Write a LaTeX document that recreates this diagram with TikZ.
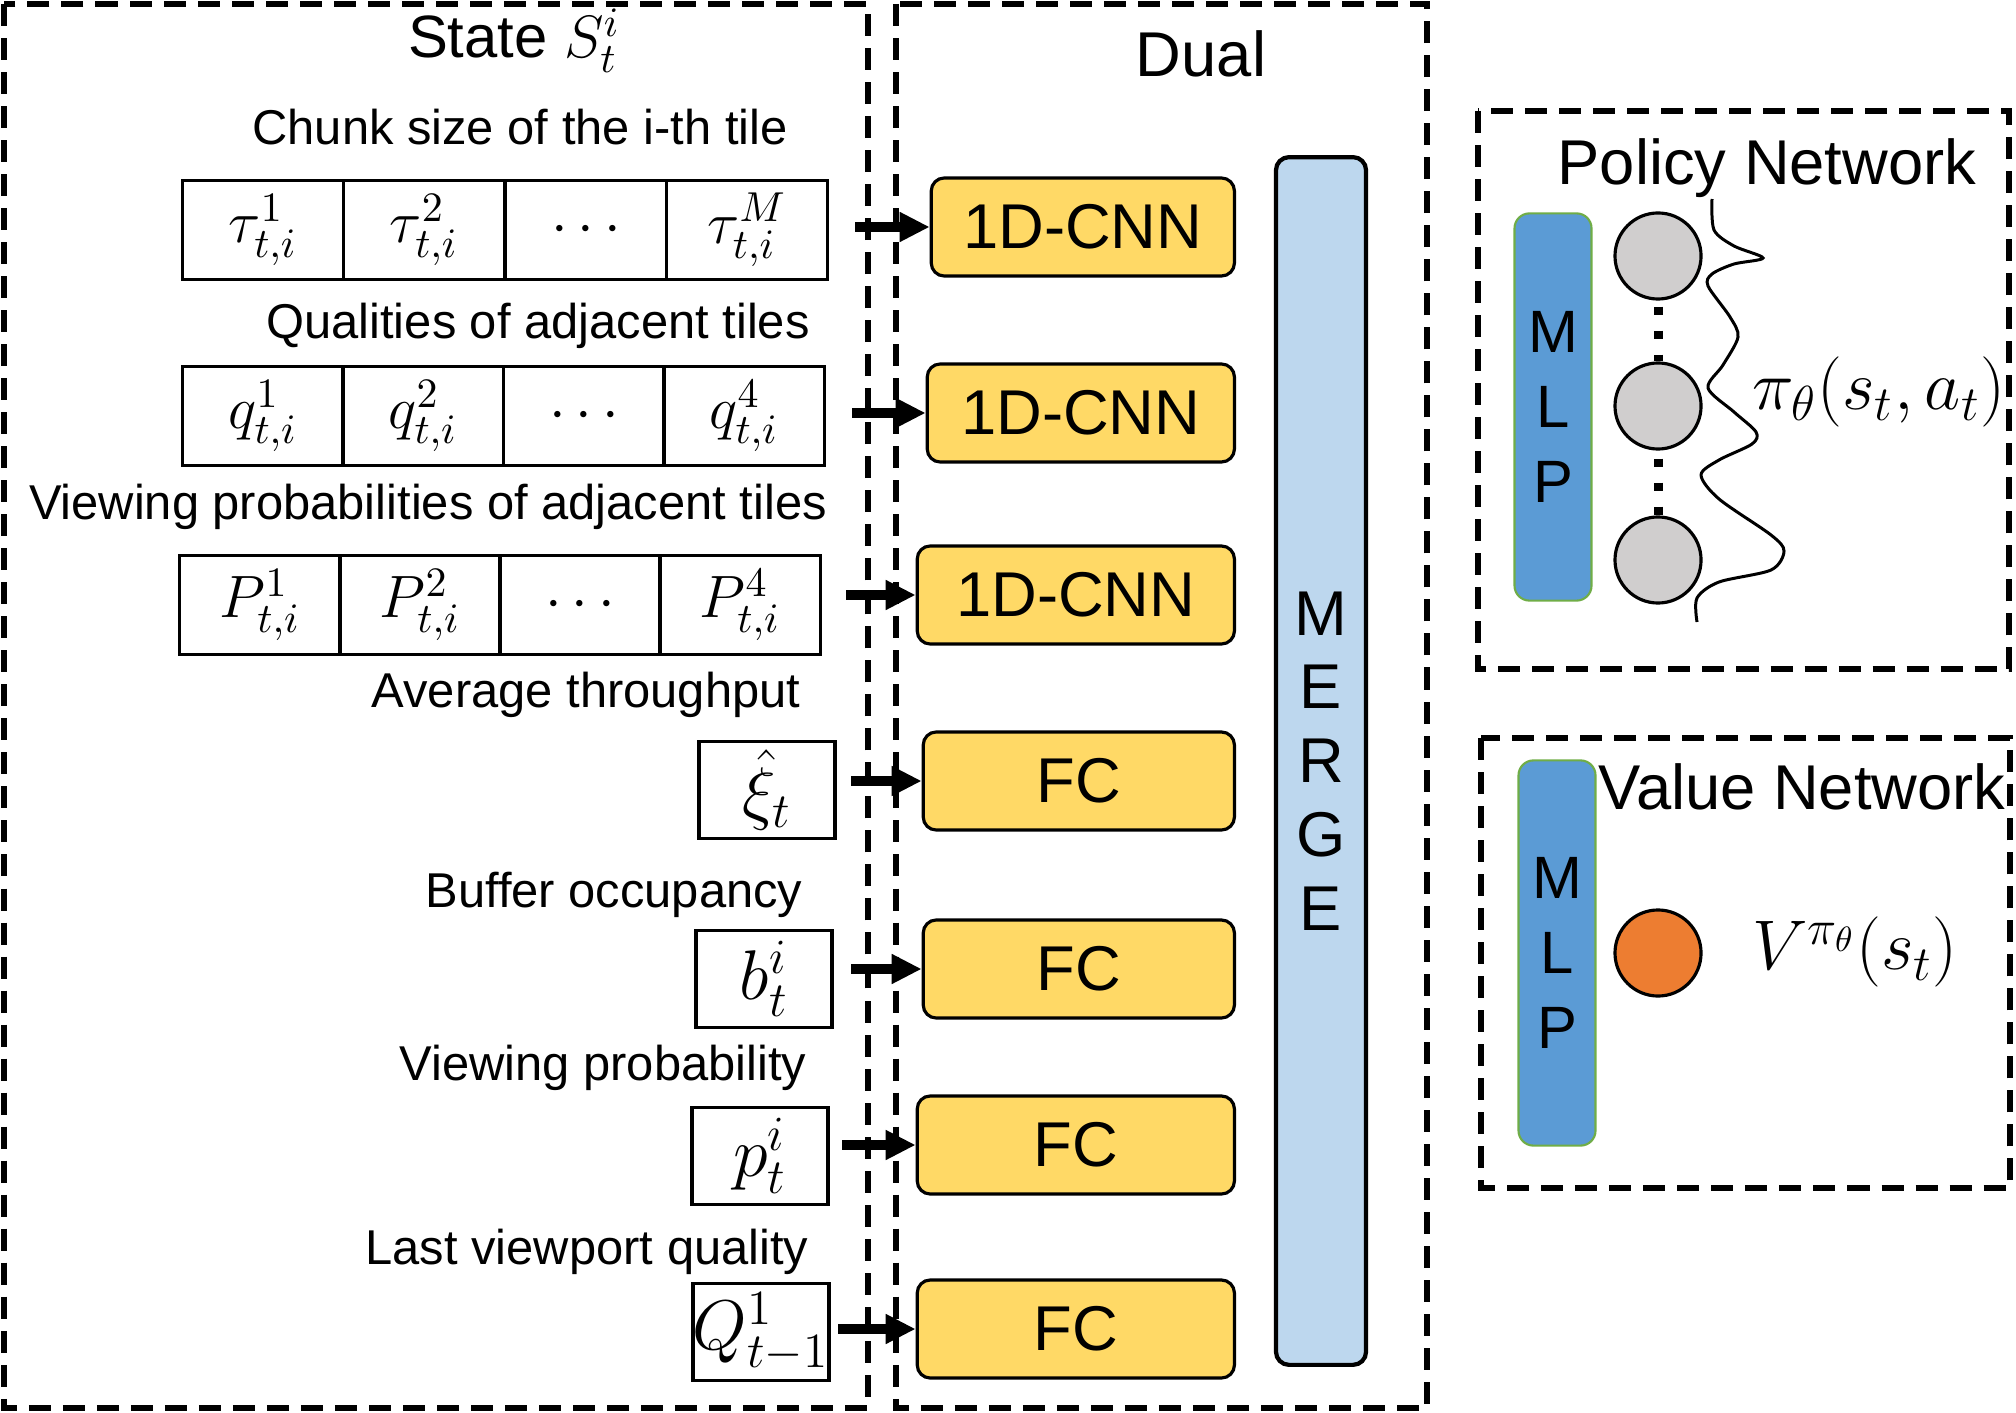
\documentclass[tikz,border=0pt]{standalone}
\usepackage{fix-cm}
\usepackage[no-math]{fontspec}
\setmainfont{Liberation Sans}
\usetikzlibrary{arrows.meta}

\definecolor{layeryellow}{HTML}{FFD966}
\definecolor{mergeblue}{HTML}{BDD7EE}
\definecolor{mlpblue}{HTML}{5B9BD5}
\definecolor{mlpedge}{HTML}{70AD47}
\definecolor{unitgray}{HTML}{D0CECE}
\definecolor{valueorange}{HTML}{ED7D31}

\tikzset{
  grp/.style={draw, line width=1.7pt, dash pattern=on 0.22cm off 0.12cm},
  lbl/.style={anchor=base, inner sep=0pt, font=\fontsize{13.9}{16}\selectfont},
  ttl/.style={anchor=base, inner sep=0pt, font=\fontsize{18}{21}\selectfont},
  cell/.style={draw, line width=1.1pt, minimum width=1.61cm, minimum height=0.99cm,
    inner sep=0pt, font=\fontsize{17}{20}\selectfont},
  feat/.style={draw, line width=1.1pt, minimum width=1.36cm, minimum height=0.97cm,
    inner sep=0pt, font=\fontsize{20}{23}\selectfont},
  layer/.style={draw, line width=0.9pt, rounded corners=0.13cm, fill=layeryellow,
    minimum height=0.98cm, anchor=east, inner sep=0pt, font=\fontsize{18}{20}\selectfont},
  mlp/.style={draw=mlpedge, line width=0.6pt, rounded corners=0.15cm, fill=mlpblue,
    minimum width=0.77cm, inner sep=0pt, align=center, font=\fontsize{17}{21.3}\selectfont},
  unit/.style={circle, draw, line width=0.9pt, minimum size=0.86cm, inner sep=0pt},
  feed/.style={-{Triangle[length=0.3cm,width=0.28cm]}, line width=0.1cm},
  dotline/.style={line width=0.09cm, dash pattern=on 0.08cm off 0.16cm},
}

\begin{document}
\begin{tikzpicture}[x=0.01cm,y=-0.01cm]
\useasboundingbox (0,0) rectangle (2016,1413);

% dashed groups
\draw[grp] (4,4) rectangle (868,1408);
\draw[grp] (896,4) rectangle (1427,1408);
\draw[grp] (1478,111) rectangle (2009,669);
\draw[grp] (1481,738) rectangle (2010,1188);

% titles and labels
\node[ttl, font=\fontsize{17}{20}\selectfont] (state) at (514,58) {State $S_t^i$};
\node[ttl] (dual) at (1201,77) {Dual};
\node[ttl] (policy) at (1767,185) {Policy Network};
\node[ttl] (value) at (1802,809) {Value Network};

\node[lbl] (lchunk) at (520,145) {Chunk size of the i-th tile};
\node[lbl] (lqual) at (538,339) {Qualities of adjacent tiles};
\node[lbl] (lview) at (428,520) {Viewing probabilities of adjacent tiles};
\node[lbl] (lavg) at (586,707) {Average throughput};
\node[lbl] (lbuf) at (614,907) {Buffer occupancy};
\node[lbl] (lvp) at (603,1080) {Viewing probability};
\node[lbl] (llast) at (587,1264) {Last viewport quality};

% state vectors
\begin{scope}[every node/.style={cell}]
  \node (t1) at (263,230) {$\tau^1_{t,i}$};
  \node (t2) at (424,230) {$\tau^2_{t,i}$};
  \node (t3) at (586,230) {$\cdots$};
  \node (t4) at (747,230) {$\tau^M_{t,i}$};
  \node (q1) at (263,416) {$q^1_{t,i}$};
  \node (q2) at (423,416) {$q^2_{t,i}$};
  \node (q3) at (584,416) {$\cdots$};
  \node (q4) at (744,416) {$q^4_{t,i}$};
  \node (p1) at (260,605) {$P^1_{t,i}$};
  \node (p2) at (420,605) {$P^2_{t,i}$};
  \node (p3) at (580,605) {$\cdots$};
  \node (p4) at (740,605) {$P^4_{t,i}$};
\end{scope}

\begin{scope}[every node/.style={feat}]
  \node (xi) at (767,790) {$\hat{\xi}_t$};
  \node (bt) at (764,979) {$b^i_t$};
  \node (pt) at (760,1156) {$p^i_t$};
  \node (qt) at (761,1332) {$Q^1_{t-1}$};
\end{scope}

% dual layers
\node[layer, minimum width=3.03cm] (c1) at (1236,227) {1D-CNN};
\node[layer, minimum width=3.07cm] (c2) at (1236,413) {1D-CNN};
\node[layer, minimum width=3.17cm] (c3) at (1236,595) {1D-CNN};
\node[layer, minimum width=3.11cm] (f1) at (1236,781) {FC};
\node[layer, minimum width=3.11cm] (f2) at (1236,969) {FC};
\node[layer, minimum width=3.17cm] (f3) at (1236,1145) {FC};
\node[layer, minimum width=3.17cm] (f4) at (1236,1329) {FC};

\node[draw, line width=1.2pt, rounded corners=0.13cm, fill=mergeblue,
  minimum width=0.9cm, minimum height=12.07cm, inner sep=0pt, align=center,
  font=\fontsize{18}{21}\selectfont] (merge) at (1321,761) {M\\E\\R\\G\\E};

% feeding arrows
\coordinate (a1) at (855,227);
\coordinate (a2) at (852,413);
\coordinate (a3) at (846,595);
\coordinate (a4) at (851,781);
\coordinate (a5) at (851,969);
\coordinate (a6) at (842,1145);
\coordinate (a7) at (838,1329);
\draw[feed] (a1) -- (c1.west);
\draw[feed] (a2) -- (c2.west);
\draw[feed] (a3) -- (c3.west);
\draw[feed] (a4) -- (f1.west);
\draw[feed] (a5) -- (f2.west);
\draw[feed] (a6) -- (f3.west);
\draw[feed] (a7) -- (f4.west);

% policy network
\node[mlp, minimum height=3.87cm] (mlp1) at (1553,407) {M\\L\\P};
\node[unit, fill=unitgray] (g1) at (1658,256) {};
\node[unit, fill=unitgray] (g2) at (1658,406) {};
\node[unit, fill=unitgray] (g3) at (1658,560) {};
\draw[dotline] ([yshift=-0.06cm]g1.south) -- (g2.north);
\draw[dotline] ([yshift=-0.08cm]g2.south) -- (g3.north);
\draw[line width=0.85pt] plot[smooth] coordinates {
  (1712,199) (1714,230) (1734,246) (1763,258) (1734,264) (1712,274)
  (1708,286) (1730,317) (1738,337) (1723,365) (1708,388) (1734,412)
  (1756,432) (1752,444) (1719,460) (1701,475) (1719,499) (1771,535)
  (1784,551) (1771,570) (1719,582) (1697,598) (1697,622)};
\node[font=\fontsize{20}{24}\selectfont] (pi) at (1879,392) {$\pi_\theta(s_t,a_t)$};

% value network
\node[mlp, minimum height=3.85cm] (mlp2) at (1557,953) {M\\L\\P};
\node[unit, fill=valueorange] (vo) at (1658,953) {};
\node[font=\fontsize{20}{24}\selectfont] (vlabel) at (1855,952) {$V^{\pi_\theta}(s_t)$};

\end{tikzpicture}
\end{document}
